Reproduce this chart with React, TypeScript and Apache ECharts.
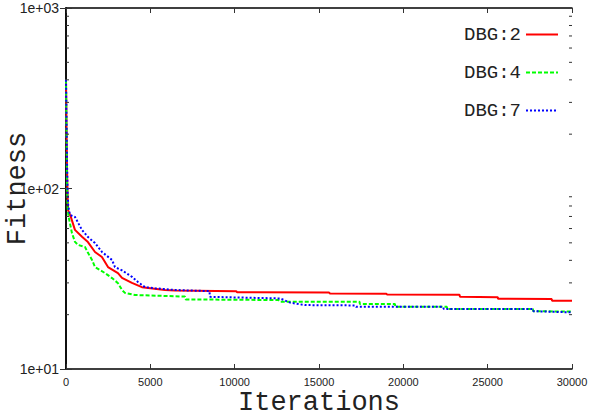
import React, { useEffect, useRef } from 'react';
import * as echarts from 'echarts';

const seriesNames = ['DBG:2', 'DBG:4', 'DBG:7'];
const seriesColors = ['#ff0000', '#00ff00', '#0000ff'];

const dbg2: [number, number][] = [
  [0, 400], [15, 300], [35, 200], [60, 130], [90, 95], [120, 76], [300, 69], [530, 59],
  [950, 54], [1300, 50.5], [1720, 44.5], [2130, 41.7], [2490, 36.7], [3080, 34],
  [3320, 32], [3910, 30], [4500, 28.4], [5870, 27.4], [6460, 27.2], [10100, 27.0],
  [10140, 26.6], [15600, 26.5], [15650, 26.2], [19000, 26.1], [19030, 25.9],
  [23330, 25.8], [23360, 25.1], [25600, 25.0], [25613, 24.5], [28800, 24.4],
  [28814, 23.9], [30000, 23.9],
];

const dbg4: [number, number][] = [
  [0, 400], [15, 280], [35, 180], [60, 110], [90, 80], [150, 70], [356, 56.5],
  [534, 50.6], [711, 48.7], [1126, 47.4], [1304, 44], [1542, 40.2], [1719, 36.7],
  [2312, 34], [2727, 31.9], [3083, 29.9], [3320, 27.4], [3498, 26.4], [4091, 25.7],
  [6462, 25.3], [7050, 25.2], [7100, 24.3], [12600, 24.1], [12700, 23.6],
  [17400, 23.6], [17430, 22.9], [19500, 22.9], [19530, 22.1], [22580, 22.1],
  [22600, 21.5], [27680, 21.5], [27700, 20.9], [30000, 20.8],
];

const dbg7: [number, number][] = [
  [0, 400], [15, 310], [35, 210], [60, 140], [90, 100], [130, 80], [237, 71.3],
  [534, 69.5], [949, 58.9], [1304, 53.8], [1719, 49.9], [2134, 44.5], [2727, 40.2],
  [2905, 36.7], [3320, 35.2], [3913, 32.4], [4269, 30.3], [4684, 28.4], [5277, 28.0],
  [6462, 27.4], [8500, 27.0], [8540, 25.1], [12690, 24.6], [13300, 23.3],
  [14170, 22.6], [17140, 22.5], [17200, 22.1], [22350, 22.1], [22400, 21.5],
  [27690, 21.5], [27720, 20.9], [30000, 20.6],
];

const xMin = 0;
const xMax = 30000;
const xInterval = 5000;
const yMin = 10;
const yMax = 1000;
const yTickLabels = ['1e+01', '1e+02', '1e+03'];
const minorTickValues = [20, 30, 40, 50, 60, 70, 80, 90, 200, 300, 400, 500, 600, 700, 800, 900];

const axisLineStyle = { color: '#000', width: 1.5 };
const tickStyle = { color: '#333', width: 1 };

export default function App() {
  const ref = useRef<HTMLDivElement>(null);

  useEffect(() => {
    if (!ref.current) return;
    const chart = echarts.init(ref.current, null, { renderer: 'svg' });
    const datasets = [dbg2, dbg4, dbg7];
    const lineTypes: any[] = ['solid', [4, 2], [2, 2]];
    const option: any = {
      animation: false,
      backgroundColor: '#fff',
      grid: { left: 66, right: 17, top: 8, bottom: 45, containLabel: false, outerBoundsMode: 'none' },
      legend: {
        orient: 'vertical',
        right: 25,
        top: 20,
        align: 'right',
        itemWidth: 32,
        itemHeight: 14,
        itemGap: 19,
        data: seriesNames,
        itemStyle: { opacity: 0 },
        textStyle: { fontFamily: 'Liberation Mono', fontSize: 19, color: '#222' },
      },
      xAxis: [
        {
          type: 'value', min: xMin, max: xMax, interval: xInterval, position: 'bottom',
          axisLine: { lineStyle: axisLineStyle },
          axisTick: { inside: true, length: 5, lineStyle: tickStyle },
          axisLabel: {
            color: '#222', fontSize: 11, fontFamily: 'Liberation Sans', margin: 7,
            formatter: (v: number) => String(v),
          },
          splitLine: { show: false },
          name: 'Iterations', nameLocation: 'middle', nameGap: 20, nameMoveOverlap: false,
          nameTextStyle: { fontFamily: 'Liberation Mono', fontSize: 27, color: '#222' },
        },
        {
          type: 'value', min: xMin, max: xMax, interval: xInterval, position: 'top',
          axisLine: { lineStyle: axisLineStyle },
          axisTick: { inside: true, length: 5, lineStyle: tickStyle },
          axisLabel: { show: false },
          splitLine: { show: false },
        },
      ],
      yAxis: [
        {
          type: 'log', logBase: 10, min: yMin, max: yMax, position: 'left',
          axisLine: { lineStyle: axisLineStyle },
          axisTick: { inside: true, length: 6, lineStyle: tickStyle },
          axisLabel: {
            color: '#222', fontSize: 14, fontFamily: 'Liberation Sans', margin: 7,
            formatter: (v: number) => yTickLabels[Math.round(Math.log10(v)) - 1] ?? '',
          },
          splitLine: { show: false },
          name: 'Fitness', nameLocation: 'middle', nameGap: 35, nameMoveOverlap: false,
          nameTextStyle: { fontFamily: 'Liberation Mono', fontSize: 27, color: '#222' },
        },
        {
          type: 'log', logBase: 10, min: yMin, max: yMax, position: 'right',
          axisLine: { lineStyle: axisLineStyle },
          axisTick: { inside: true, length: 6, lineStyle: tickStyle },
          axisLabel: { show: false },
          splitLine: { show: false },
        },
      ],
      series: [
        ...datasets.map((d, i) => ({
          name: seriesNames[i],
          type: 'line',
          data: d,
          xAxisIndex: 0,
          yAxisIndex: 0,
          showSymbol: false,
          symbol: 'none',
          color: seriesColors[i],
          lineStyle: { color: seriesColors[i], width: 2, type: lineTypes[i] },
          z: 3 + i,
        })),
        {
          type: 'custom',
          xAxisIndex: 0,
          yAxisIndex: 0,
          silent: true,
          data: minorTickValues.map((v) => [xMin, v]),
          renderItem: (_params: any, api: any) => {
            const l = api.coord([xMin, api.value(1)]);
            const r = api.coord([xMax, api.value(1)]);
            return {
              type: 'group',
              children: [
                { type: 'line', shape: { x1: l[0], y1: l[1], x2: l[0] + 3, y2: l[1] }, style: { stroke: '#333', lineWidth: 1 } },
                { type: 'line', shape: { x1: r[0] - 3, y1: r[1], x2: r[0], y2: r[1] }, style: { stroke: '#333', lineWidth: 1 } },
              ],
            };
          },
          z: 10,
        },
      ],
    };
    chart.setOption(option);
    return () => chart.dispose();
  }, []);

  return <div ref={ref} style={{ position: 'fixed', left: 0, top: 0, width: 589, height: 414 }} />;
}
